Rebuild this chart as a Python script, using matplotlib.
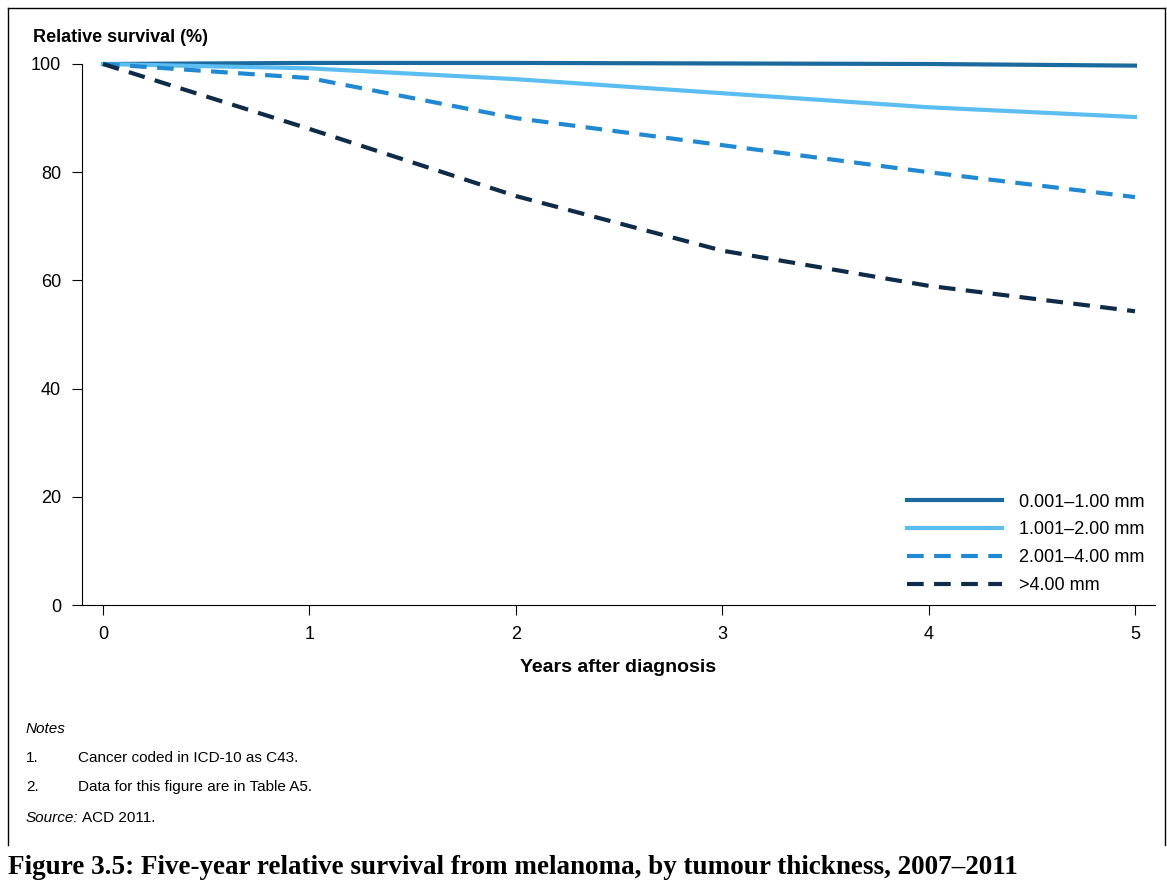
import matplotlib.pyplot as plt

years = [0, 1, 2, 3, 4, 5]
thin = [100, 100.2, 100.2, 100.1, 100.0, 99.7]
mid1 = [100, 99.2, 97.2, 94.6, 92.0, 90.2]
mid2 = [100, 97.4, 90.0, 85.0, 80.0, 75.4]
thick = [100, 88.0, 75.6, 65.5, 59.0, 54.3]
labels = ['0.001\u20131.00 mm', '1.001\u20132.00 mm', '2.001\u20134.00 mm', '>4.00 mm']

plt.rcParams['font.family'] = ['Liberation Sans', 'DejaVu Sans']
fig = plt.figure(figsize=(11.67, 8.90), dpi=100)
ax = fig.add_axes([82/1167, 1-605/890, (1155-82)/1167, (605-64)/890])

ax.plot(years, thin, color='#1b6a9e', lw=3, label=labels[0], clip_on=False)
ax.plot(years, mid1, color='#5bbdf0', lw=3, label=labels[1], clip_on=False)
ax.plot(years, mid2, color='#2089d2', lw=3, ls=(0, (4, 2.5)), label=labels[2], clip_on=False)
ax.plot(years, thick, color='#0e2c47', lw=3, ls=(0, (4, 2.5)), label=labels[3], clip_on=False)

ax.set_xlim(-21/206.4, 5 + 20/206.4)
ax.set_ylim(0, 100)
ax.set_xticks(years)
ax.set_yticks([0, 20, 40, 60, 80, 100])
ax.tick_params(labelsize=13, length=7, color='black', pad=8)
for s in ['top', 'right']:
    ax.spines[s].set_visible(False)
ax.set_xlabel('Years after diagnosis', fontsize=14, fontweight='bold', labelpad=12)
fig.text(33/1167, 1-38/890, 'Relative survival (%)', fontsize=13, fontweight='bold', va='center')

ax.legend(loc='lower right', bbox_to_anchor=(1.005, -0.01), frameon=False, fontsize=13,
          handlelength=5.3, labelspacing=0.6, handletextpad=0.9)

fs = 11
fig.text(26/1167, 1-729/890, 'Notes', fontsize=fs, style='italic', va='center')
fig.text(26/1167, 1-758/890, '1.', fontsize=fs, va='center')
fig.text(78/1167, 1-758/890, 'Cancer coded in ICD-10 as C43.', fontsize=fs, va='center')
fig.text(26/1167, 1-787/890, '2.', fontsize=fs, va='center')
fig.text(78/1167, 1-787/890, 'Data for this figure are in Table A5.', fontsize=fs, va='center')
fig.text(26/1167, 1-818/890, 'Source:', fontsize=fs, style='italic', va='center')
fig.text(82/1167, 1-818/890, 'ACD 2011.', fontsize=fs, va='center')
fig.text(8/1167, 1-867/890, 'Figure 3.5: Five-year relative survival from melanoma, by tumour thickness, 2007\u20132011',
         fontsize=19.5, fontweight='bold', family=['Liberation Serif', 'DejaVu Serif'], va='center')

# frame lines around chart area
fig.add_artist(plt.Line2D([8/1167, 8/1167], [1-8/890, 1-845/890], color='black', lw=1))
fig.add_artist(plt.Line2D([8/1167, 1165/1167], [1-8/890, 1-8/890], color='black', lw=1))
fig.add_artist(plt.Line2D([1165/1167, 1165/1167], [1-8/890, 1-845/890], color='black', lw=1))

fig.savefig('out.png')
